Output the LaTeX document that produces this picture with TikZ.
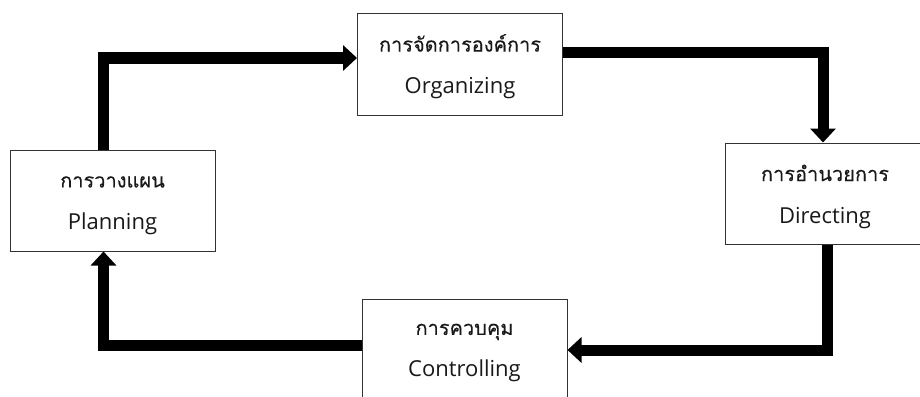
\documentclass[tikz,border=0pt]{standalone}
\usepackage{fontspec}
\setmainfont{Open Sans}
\newfontfamily\thaifont[Script=Thai,FakeBold=0.2]{Loma}
\usetikzlibrary{arrows.meta}
\newcommand{\thl}[1]{{\thaifont\fontsize{20}{24}\selectfont #1}}
\begin{document}
\begin{tikzpicture}[x=1pt,y=-1pt,
  box/.style={draw=black!80,line width=1pt,fill=white,minimum width=205pt,minimum height=101pt,inner sep=0pt},
  txt/.style={inner sep=0pt,align=center,text=black!90,font=\fontsize{22}{42}\selectfont},
  flow/.style={line width=11pt,line cap=butt,line join=miter,-{Triangle[width=25pt,length=14pt]}}]
\useasboundingbox (0,0) rectangle (920,396);
\clip (0,0) rectangle (920,396);
\fill[white] (0,0) rectangle (920,396);
\node[box] (plan) at (112.5,200.5) {};
\node[box] (org) at (460,64.5) {};
\node[box,minimum width=200pt] (dir) at (825,193.5) {};
\node[box,minimum height=102pt] (ctrl) at (464.5,350) {};
\node[txt] (plant) at ([yshift=-5pt]plan.center) {\thl{การวางแผน}\\Planning};
\node[txt] (orgt) at ([yshift=-2pt]org.center) {\thl{การจัดการองค์การ}\\Organizing};
\node[txt] (dirt) at ([yshift=-3pt]dir.center) {\thl{การอำนวยการ}\\Directing};
\node[txt] (ctrlt) at ([yshift=-3pt]ctrl.center) {\thl{การควบคุม}\\Controlling};
\draw[flow] ([xshift=-9.5pt]plan.north) |- ([yshift=6.5pt]org.west);
\draw[flow] ([yshift=11.5pt]org.east) -| ([xshift=-2pt]dir.north);
\draw[flow] ([xshift=2pt]dir.south) |- (ctrl.east);
\draw[flow] ([yshift=4.5pt]ctrl.west) -| ([xshift=-9pt]plan.south);
\end{tikzpicture}
\end{document}
